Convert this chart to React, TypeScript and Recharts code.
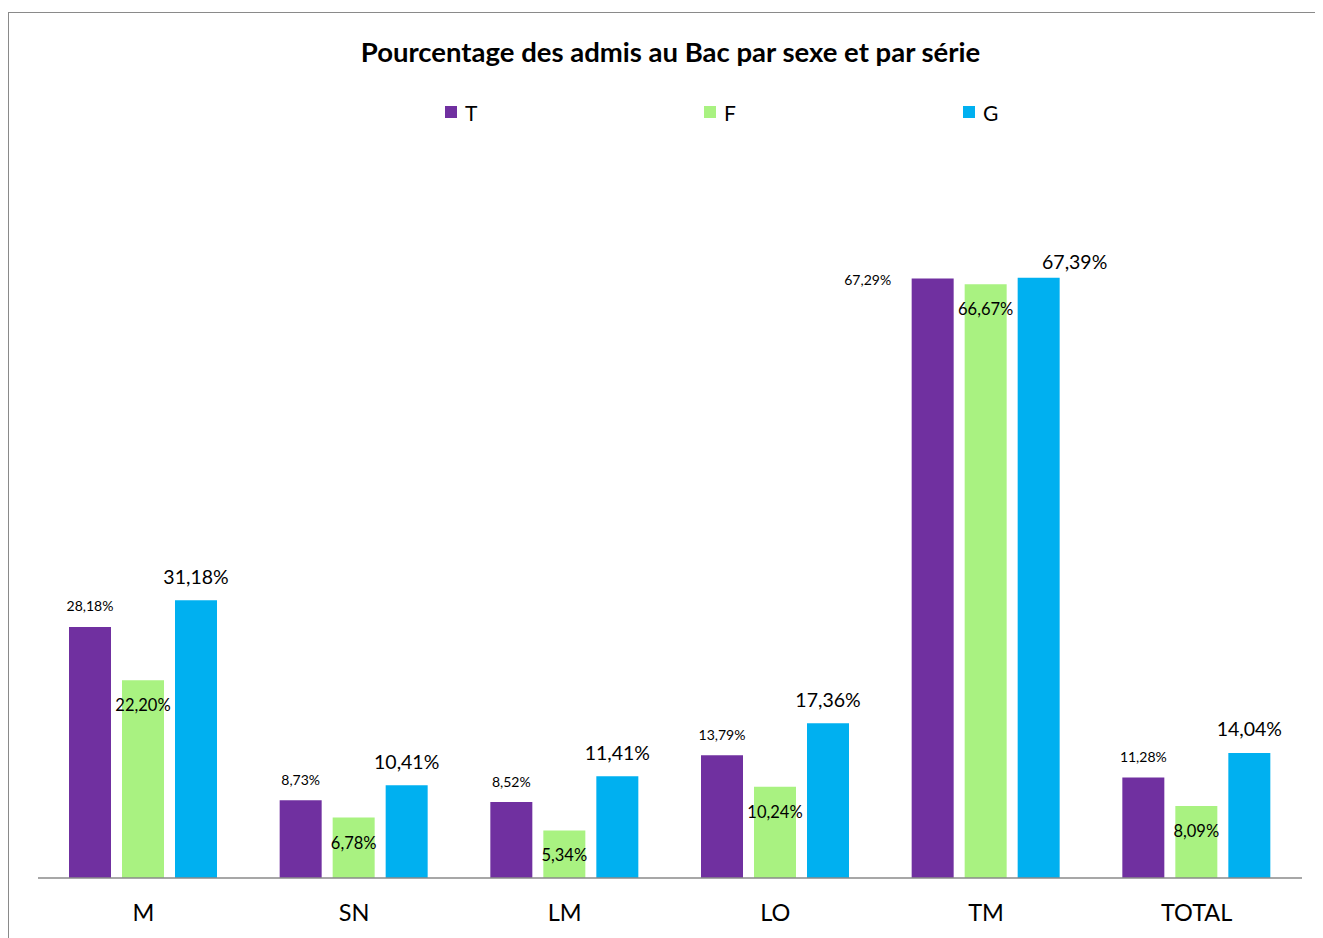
import React from "react";
import { BarChart, Bar, XAxis, YAxis, LabelList } from "recharts";

const categories = ["M", "SN", "LM", "LO", "TM", "TOTAL"];
const seriesT = [28.18, 8.73, 8.52, 13.79, 67.29, 11.28];
const seriesF = [22.2, 6.78, 5.34, 10.24, 66.67, 8.09];
const seriesG = [31.18, 10.41, 11.41, 17.36, 67.39, 14.04];
const seriesNames = ["T", "F", "G"];
const colors = ["#7030A0", "#A9F281", "#00B0F0"];
const title = "Pourcentage des admis au Bac par sexe et par série";

const data = categories.map((c, i) => ({
  name: c,
  T: seriesT[i],
  F: seriesF[i],
  G: seriesG[i],
}));

const fmt = (v: number) => v.toFixed(2).replace(".", ",") + "%";
const FONT = "Lato, 'Noto Sans', sans-serif";

const makeLabel = (kind: string) => (props: any) => {
  const { x, y, width, value, index } = props;
  const cx = Number(x) + Number(width) / 2;
  const top = Number(y);
  let tx = cx;
  let ty = top;
  let fs = 14;
  if (kind === "T") {
    fs = 14;
    ty = top - 21;
    if (categories[index] === "TM") {
      tx = cx - 65;
      ty = top + 1;
    }
  } else if (kind === "F") {
    fs = 16.5;
    ty = top + 25;
  } else {
    fs = 19.5;
    ty = top - 24;
    if (categories[index] === "TM") {
      tx = cx + 36;
      ty = top - 16;
    }
  }
  return (
    <text
      x={tx}
      y={ty}
      textAnchor="middle"
      dominantBaseline="central"
      fontSize={fs}
      fontFamily={FONT}
      fill="#000"
    >
      {fmt(Number(value))}
    </text>
  );
};

const Tick = (props: any) => {
  const { x, y, payload } = props;
  return (
    <text
      x={x}
      y={Number(y) + 34}
      textAnchor="middle"
      dominantBaseline="central"
      fontSize={23.5}
      fontFamily={FONT}
      fill="#000"
    >
      {payload.value}
    </text>
  );
};

export default function App() {
  return (
    <div
      style={{
        position: "relative",
        width: 1315,
        height: 930,
        overflow: "hidden",
        background: "#fff",
        fontFamily: FONT,
      }}
    >
      <div
        style={{
          position: "absolute",
          left: 0,
          top: 4,
          width: 1330,
          height: 960,
          border: "1.5px solid #8a8a8a",
          boxSizing: "border-box",
        }}
      />
      <div
        style={{
          position: "absolute",
          left: 0,
          width: 1325,
          top: 28,
          textAlign: "center",
          fontWeight: 700,
          fontSize: 27.5,
          lineHeight: "32px",
          color: "#000",
        }}
      >
        {title}
      </div>
      {seriesNames.map((n, i) => (
        <div
          key={n}
          style={{
            position: "absolute",
            left: 437 + i * 259,
            top: 92,
            display: "flex",
            alignItems: "center",
            height: 24,
          }}
        >
          <div style={{ width: 12, height: 12, background: colors[i] }} />
          <span style={{ marginLeft: 8, fontSize: 21, color: "#000" }}>{n}</span>
        </div>
      ))}
      <div style={{ position: "absolute", left: 0, top: 0 }}>
        <BarChart
          width={1315}
          height={926}
          data={data}
          margin={{ top: 157.4, right: 21, bottom: 0, left: 30 }}
          barSize={42}
          barGap={11}
        >
          <XAxis
            dataKey="name"
            height={56}
            tickLine={false}
            tickSize={0}
            tickMargin={0}
            axisLine={{ stroke: "#8a8a8a", strokeWidth: 1.5 }}
            tick={<Tick />}
            interval={0}
          />
          <YAxis hide domain={[0, 80]} />
          <Bar dataKey="T" fill={colors[0]} isAnimationActive={false}>
            <LabelList dataKey="T" content={makeLabel("T")} />
          </Bar>
          <Bar dataKey="F" fill={colors[1]} isAnimationActive={false}>
            <LabelList dataKey="F" content={makeLabel("F")} />
          </Bar>
          <Bar dataKey="G" fill={colors[2]} isAnimationActive={false}>
            <LabelList dataKey="G" content={makeLabel("G")} />
          </Bar>
        </BarChart>
      </div>
    </div>
  );
}
